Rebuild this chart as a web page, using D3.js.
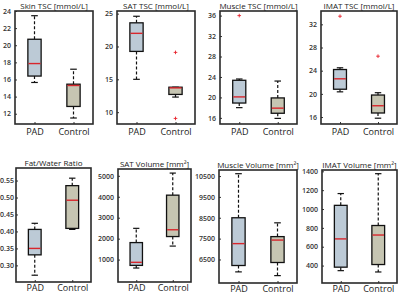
<!DOCTYPE html>
<html>
<head>
<meta charset="utf-8">
<script src="https://cdn.jsdelivr.net/npm/d3@7"></script>
<style>
  body { margin: 0; background: #fff; }
  svg text { font-family: "Open Sans", "Noto Sans", sans-serif; }
</style>
</head>
<body>
<script>
// chart values
const titles = ['Skin TSC [mmol/L]', 'SAT TSC [mmol/L]', 'Muscle TSC [mmol/L]', 'IMAT TSC [mmol/L]',
  'Fat/Water Ratio', 'SAT Volume [mm\u00B2]', 'Muscle Volume [mm\u00B2]', 'IMAT Volume [mm\u00B2]'];
const groups = ['PAD', 'Control'];
const yDomains = [[10.8, 24], [8.2, 25.4], [14.8, 36.9], [14.8, 34.3],
  [0.251, 0.587], [-70, 5325], [5372, 10790], [215, 1414]];
const yTicks = [
  [12, 14, 16, 18, 20, 22, 24],
  [10, 15, 20, 25],
  [16, 20, 24, 28, 32, 36],
  [16, 20, 24, 28, 32],
  [0.30, 0.35, 0.40, 0.45, 0.50, 0.55],
  [1000, 2000, 3000, 4000, 5000],
  [6500, 7500, 8500, 9500, 10500],
  [400, 600, 800, 1000, 1200, 1400]
];
const tickFormats = ['d', 'd', 'd', 'd', '.2f', 'd', 'd', 'd'];
// [lower whisker, q1, median, q3, upper whisker]
const padStats = [
  [15.65, 16.4, 17.86, 20.7, 23.45],
  [15.0, 19.25, 22.0, 23.6, 24.6],
  [18.0, 18.9, 20.1, 23.35, 23.6],
  [20.35, 20.8, 22.6, 24.2, 24.5],
  [0.271, 0.331, 0.350, 0.406, 0.424],
  [597, 723, 869, 1812, 2492],
  [5905, 6211, 7260, 8500, 10613],
  [346, 383, 683, 1039, 1164]
];
const controlStats = [
  [11.5, 12.85, 15.3, 15.45, 17.2],
  [12.3, 12.7, 13.7, 13.8, 13.8],
  [15.9, 16.9, 17.9, 19.9, 23.2],
  [15.8, 16.7, 17.95, 19.8, 20.2],
  [0.406, 0.409, 0.492, 0.535, 0.557],
  [1645, 2100, 2424, 4076, 5130],
  [5726, 6355, 7430, 7596, 8257],
  [332, 411, 724, 825, 1375]
];
const padOutliers = [[], [], [36], [33.4], [], [], [], []];
const controlOutliers = [[], [19.1, 9.05], [], [26.5], [], [], [], []];

// panel frames [x0, x1, y0, y1]
const frames = [
  [15, 93, 11, 124], [117, 195, 11, 124], [220, 297, 11, 124], [321, 397, 11, 124],
  [16, 91, 168, 282], [118, 191, 169, 282], [219, 297, 170, 283], [322, 397, 170, 283]
];

const fills = ['#bccad6', '#c6c5b2'];
const medianColor = '#d8262c';

const svg = d3.select('body').append('svg')
  .attr('width', 400)
  .attr('height', 295);

titles.forEach((title, i) => {
  const [x0, x1, y0, y1] = frames[i];
  const g = svg.append('g');

  const x = d3.scaleLinear().domain([0.5, 2.5]).range([x0, x1]);
  const y = d3.scaleLinear().domain(yDomains[i]).range([y1, y0]);
  const unit = x(2) - x(1);
  const boxW = unit * 0.34;
  const capW = boxW * 0.5;

  // y axis, ticks pointing inward
  const fmt = d3.format(tickFormats[i]);
  const yAxis = d3.axisLeft(y)
    .tickValues(yTicks[i])
    .tickFormat(fmt)
    .tickSizeInner(-2)
    .tickSizeOuter(0)
    .tickPadding(i === 4 ? 2 : 4);
  const yG = g.append('g')
    .attr('transform', `translate(${x0},0)`)
    .call(yAxis);
  yG.select('.domain').remove();
  yG.selectAll('line').attr('stroke', '#333').attr('stroke-width', 1);
  yG.selectAll('text')
    .attr('font-size', 7)
    .attr('fill', '#333')
    .attr('font-weight', 600);

  // x axis labels
  const xAxis = d3.axisBottom(x)
    .tickValues([1, 2])
    .tickFormat((d, j) => groups[j])
    .tickSizeInner(-2)
    .tickSizeOuter(0)
    .tickPadding(i < 4 ? 4.5 : 3);
  const xG = g.append('g')
    .attr('transform', `translate(0,${y1})`)
    .call(xAxis);
  xG.select('.domain').remove();
  xG.selectAll('line').attr('stroke', '#333');
  xG.selectAll('text')
    .attr('font-size', 9)
    .attr('fill', '#222');

  // title
  g.append('text')
    .attr('x', (x0 + x1) / 2)
    .attr('y', y0 - 2.5)
    .attr('text-anchor', 'middle')
    .attr('font-size', 8)
    .attr('fill', '#222')
    .text(title);

  const stats = [padStats[i], controlStats[i]];
  const outs = [padOutliers[i], controlOutliers[i]];

  stats.forEach((s, j) => {
    const cx = x(j + 1);
    const [lo, q1, med, q3, hi] = s;
    const bg = g.append('g');

    // whiskers
    bg.append('line')
      .attr('x1', cx).attr('x2', cx)
      .attr('y1', y(q3)).attr('y2', y(hi))
      .attr('stroke', '#111').attr('stroke-width', 1.2)
      .attr('stroke-dasharray', '3,2');
    bg.append('line')
      .attr('x1', cx).attr('x2', cx)
      .attr('y1', y(q1)).attr('y2', y(lo))
      .attr('stroke', '#111').attr('stroke-width', 1.2)
      .attr('stroke-dasharray', '3,2');
    [lo, hi].forEach(v => {
      bg.append('line')
        .attr('x1', cx - capW / 2).attr('x2', cx + capW / 2)
        .attr('y1', y(v)).attr('y2', y(v))
        .attr('stroke', '#111').attr('stroke-width', 1.2);
    });

    // box
    bg.append('rect')
      .attr('x', cx - boxW / 2)
      .attr('y', y(q3))
      .attr('width', boxW)
      .attr('height', Math.max(y(q1) - y(q3), 0.5))
      .attr('fill', fills[j])
      .attr('stroke', '#111')
      .attr('stroke-width', 1.3);

    // median
    bg.append('line')
      .attr('x1', cx - boxW / 2 + 0.6).attr('x2', cx + boxW / 2 - 0.6)
      .attr('y1', y(med)).attr('y2', y(med))
      .attr('stroke', medianColor).attr('stroke-width', 1.4);

    // outliers
    outs[j].forEach(v => {
      const oy = y(v);
      bg.append('path')
        .attr('d', `M${cx - 1.8},${oy}H${cx + 1.8}M${cx},${oy - 1.8}V${oy + 1.8}`)
        .attr('stroke', '#e8202a')
        .attr('stroke-width', 0.9)
        .attr('fill', 'none');
    });
  });

  // frame
  g.append('rect')
    .attr('x', x0).attr('y', y0)
    .attr('width', x1 - x0).attr('height', y1 - y0)
    .attr('fill', 'none')
    .attr('stroke', '#2a2a2a')
    .attr('stroke-width', 1.6);
});
</script>
</body>
</html>
